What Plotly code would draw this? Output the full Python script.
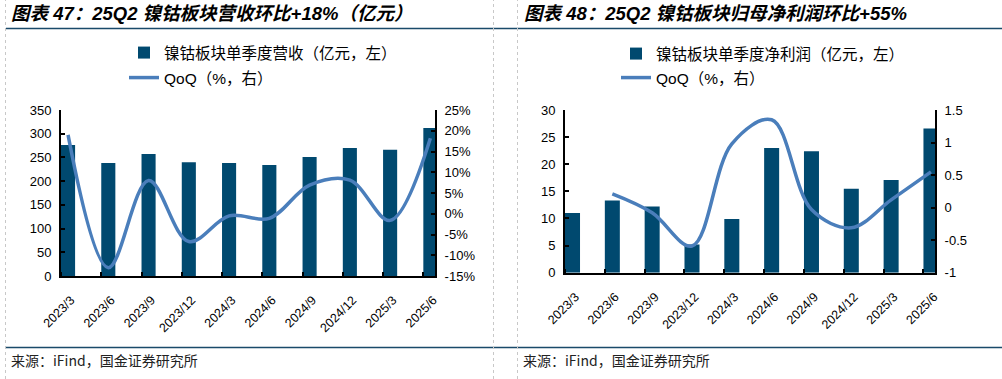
import plotly.graph_objects as go
import numpy as np

# ---------------- data ----------------
quarters = ["2023/3", "2023/6", "2023/9", "2023/12", "2024/3", "2024/6",
            "2024/9", "2024/12", "2025/3", "2025/6"]
revenue = [276, 238, 257, 240, 238, 234, 251, 270, 266, 312]          # 亿元
revenue_qoq = [19.0, -13.0, 8.0, -6.7, -0.5, -1.1, 6.9, 8.1, -1.6, 18.2]  # %
profit = [11.0, 13.3, 12.2, 5.2, 9.9, 23.0, 22.4, 15.5, 17.1, 26.6]   # 亿元
profit_qoq = [None, 0.21, -0.08, -0.59, 0.98, 1.35, -0.03, -0.31, 0.12, 0.55]

rev_qoq_tickvals = [-15, -10, -5, 0, 5, 10, 15, 20, 25]
rev_qoq_ticktext = ["-15%", "-10%", "-5%", "0%", "5%", "10%", "15%", "20%", "25%"]
prof_qoq_tickvals = [-1, -0.5, 0, 0.5, 1, 1.5]
prof_qoq_ticktext = ["-1", "-0.5", "0", "0.5", "1", "1.5"]

title_left = "图表 47：25Q2 镍钴板块营收环比+18%（亿元）"
title_right = "图表 48：25Q2 镍钴板块归母净利润环比+55%"
legend_bar_left = "镍钴板块单季度营收（亿元，左）"
legend_bar_right = "镍钴板块单季度净利润（亿元，左）"
legend_line = "QoQ（%，右）"
source_text = "来源：iFind，国金证券研究所"

# ---------------- style ----------------
W, H = 1002, 379
BAR_COLOR = "#00496F"
LINE_COLOR = "#4A7EBB"
RULE_COLOR = "#1A4A6A"
FONT_LAT = "Liberation Sans, Arial, Noto Sans CJK SC"
FONT_CJK = "Noto Sans CJK SC"

idx = np.arange(len(quarters))
bw_left = 0.35
bw_right = 0.377


def px_x(v):
    return v / W


def px_y(v):
    return 1 - v / H


fig = go.Figure()

# left chart
fig.add_trace(go.Bar(x=idx, y=revenue, width=bw_left, offset=0,
                     marker=dict(color=BAR_COLOR, line=dict(width=0)),
                     name=legend_bar_left, xaxis="x", yaxis="y", legend="legend"))
fig.add_trace(go.Scatter(x=idx + bw_left / 2, y=revenue_qoq, mode="lines",
                         line=dict(color=LINE_COLOR, width=3.5, shape="spline", smoothing=1.0),
                         name=legend_line, xaxis="x", yaxis="y2", legend="legend2"))
# right chart
fig.add_trace(go.Bar(x=idx, y=profit, width=bw_right, offset=0,
                     marker=dict(color=BAR_COLOR, line=dict(width=0)),
                     name=legend_bar_right, xaxis="x2", yaxis="y3", legend="legend3"))
fig.add_trace(go.Scatter(x=idx + bw_right / 2, y=profit_qoq, mode="lines",
                         line=dict(color=LINE_COLOR, width=3.5, shape="spline", smoothing=1.0),
                         connectgaps=False,
                         name=legend_line, xaxis="x2", yaxis="y4", legend="legend4"))

tickfont = dict(family=FONT_LAT, size=13, color="black")


def xaxis_cfg(domain, anchor, bw):
    return dict(domain=domain, anchor=anchor, range=[0, 9.29], automargin=False,
                tickmode="array", tickvals=list(idx + bw / 2), ticktext=quarters,
                tickangle=-45, tickfont=dict(family=FONT_LAT, size=12.5, color="black"),
                ticklabelstandoff=10, ticklabelshift=3,
                ticks="", showline=True, linecolor="black", linewidth=2,
                showgrid=False, zeroline=False,
                minor=dict(tickmode="array", tickvals=list(idx), ticks="inside",
                           ticklen=4, tickcolor="black", tickwidth=1.5, showgrid=False))


def yaxis_cfg(domain, anchor, rng, side="left", overlaying=None, tickvals=None,
              ticktext=None, dtick=None):
    d = dict(domain=domain, anchor=anchor, range=rng, side=side, automargin=False,
             showline=True, linecolor="black", linewidth=2, showgrid=False,
             zeroline=False, ticks="inside", ticklen=4, tickcolor="black",
             tickwidth=1.5, tickfont=tickfont, ticklabelstandoff=5)
    if overlaying:
        d["overlaying"] = overlaying
    if tickvals is not None:
        d["tickmode"] = "array"
        d["tickvals"] = tickvals
        d["ticktext"] = ticktext
    if dtick is not None:
        d["dtick"] = dtick
        d["tick0"] = 0
    return d


dom_left_x = [px_x(61), px_x(435)]
dom_right_x = [px_x(565), px_x(935)]
dom_left_y = [px_y(276), px_y(110)]
dom_right_y = [px_y(272.7), px_y(110)]

legend_common = dict(font=dict(family=FONT_LAT, size=15.5, color="black"),
                     bgcolor="rgba(0,0,0,0)", borderwidth=0, xanchor="left",
                     yanchor="middle", itemclick=False, itemdoubleclick=False)

fig.update_layout(
    width=W, height=H,
    margin=dict(l=0, r=0, t=0, b=0, autoexpand=False),
    paper_bgcolor="white", plot_bgcolor="white",
    showlegend=True,
    xaxis=xaxis_cfg(dom_left_x, "y", bw_left),
    xaxis2=xaxis_cfg(dom_right_x, "y3", bw_right),
    yaxis=yaxis_cfg(dom_left_y, "x", [0, 350], dtick=50),
    yaxis2=yaxis_cfg(dom_left_y, "x", [-15, 25], side="right", overlaying="y",
                     tickvals=rev_qoq_tickvals, ticktext=rev_qoq_ticktext),
    yaxis3=yaxis_cfg(dom_right_y, "x2", [0, 30], dtick=5),
    yaxis4=yaxis_cfg(dom_right_y, "x2", [-1, 1.5], side="right", overlaying="y3",
                     tickvals=prof_qoq_tickvals, ticktext=prof_qoq_ticktext),
    legend=dict(x=px_x(124), y=px_y(53), **legend_common),
    legend2=dict(x=px_x(124), y=px_y(78), **legend_common),
    legend3=dict(x=px_x(616), y=px_y(54), **legend_common),
    legend4=dict(x=px_x(616), y=px_y(78), **legend_common),
)

# titles and source
fig.add_annotation(text=f"<b><i>{title_left}</i></b>", xref="paper", yref="paper",
                   x=px_x(9), y=px_y(13), xanchor="left", yanchor="middle",
                   showarrow=False, font=dict(family=FONT_LAT, size=18.5, color="black"))
fig.add_annotation(text=f"<b><i>{title_right}</i></b>", xref="paper", yref="paper",
                   x=px_x(522), y=px_y(13), xanchor="left", yanchor="middle",
                   showarrow=False, font=dict(family=FONT_LAT, size=18.5, color="black"))
for sx in (9, 521):
    fig.add_annotation(text=source_text, xref="paper", yref="paper",
                       x=px_x(sx), y=px_y(360), xanchor="left", yanchor="middle",
                       showarrow=False, font=dict(family=FONT_CJK, size=14, color="#222222"))

# rules and frame separators
fig.add_shape(type="line", xref="paper", yref="paper", x0=px_x(6), x1=1,
              y0=px_y(28.5), y1=px_y(28.5), line=dict(color=RULE_COLOR, width=1.5))
fig.add_shape(type="line", xref="paper", yref="paper", x0=px_x(6), x1=1,
              y0=px_y(347.5), y1=px_y(347.5), line=dict(color=RULE_COLOR, width=1.5))
for vx in (5.5, 493.5, 517.5):
    fig.add_shape(type="line", xref="paper", yref="paper", x0=px_x(vx), x1=px_x(vx),
                  y0=0, y1=1, line=dict(color="#C8C8C8", width=1, dash="dot"))

# the page's default 8px body margin would shift the whole figure; remove it
fig.write_html("out.html",
               config={"displayModeBar": False},
               post_script="document.body.style.margin='0px';"
                           "document.documentElement.style.overflow='hidden';")
